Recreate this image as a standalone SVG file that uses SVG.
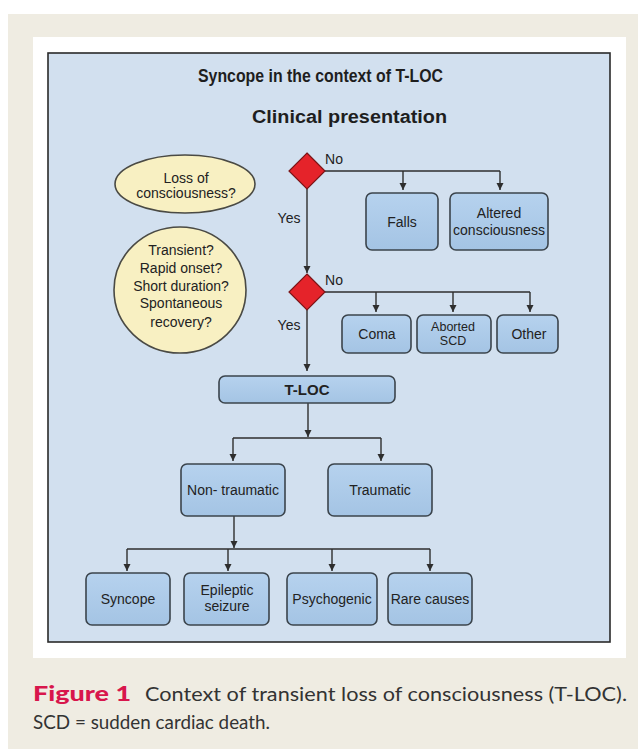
<svg xmlns="http://www.w3.org/2000/svg" width="638" height="749" viewBox="0 0 638 749">
<style>
.t{font-family:"Liberation Sans",Arial,sans-serif;font-size:14px;fill:#222;text-anchor:middle}
.box{fill:url(#bg);stroke:#3b444c;stroke-width:1.6}
.ell{fill:#F8F0C2;stroke:#4a4a44;stroke-width:1.6}
.dia{fill:#E5232A;stroke:#7a1518;stroke-width:1.2}
.ln{fill:none;stroke:#2e2e2e;stroke-width:1.4}
.arr{fill:none;stroke:#2e2e2e;stroke-width:1.4;marker-end:url(#ah)}
.cap{font-family:Lato,"Liberation Sans",sans-serif;font-size:18.5px;fill:#333}
.ttl{font-family:"Liberation Sans",Arial,sans-serif;font-size:18px;font-weight:bold;fill:#1e1e1e}
</style>
<defs>
<linearGradient id="bg" x1="0" y1="0" x2="0" y2="1">
<stop offset="0" stop-color="#B6D2EE"/>
<stop offset="1" stop-color="#A4C4E4"/>
</linearGradient>
<marker id="ah" markerUnits="userSpaceOnUse" markerWidth="8" markerHeight="8" refX="7" refY="4" orient="auto">
<path d="M0,0.5 L7,4 L0,7.5 z" fill="#2e2e2e"/>
</marker>
</defs>
<rect x="0" y="0" width="638" height="749" fill="#FFFFFF"/>
<rect x="8" y="14" width="630" height="735" fill="#EFECE2"/>
<rect x="33" y="37" width="593" height="621" fill="#FFFFFF"/>
<rect x="48" y="53" width="562" height="589" fill="#D2E0EF" stroke="#2a2a2a" stroke-width="1.6"/>
<g id="title">
<text class="ttl" x="198" y="82" textLength="245" lengthAdjust="spacingAndGlyphs">Syncope in the context of T-LOC</text>
<text class="ttl" x="252" y="123" textLength="195" lengthAdjust="spacingAndGlyphs">Clinical presentation</text>
</g>
<g id="connectors">
<path class="ln" d="M325,171 H500"/>
<path class="arr" d="M403,171 V190"/>
<path class="arr" d="M500,171 V190"/>
<path class="arr" d="M307,189 V273"/>
<path class="ln" d="M325,292 H530"/>
<path class="arr" d="M376,292 V312"/>
<path class="arr" d="M453,292 V312"/>
<path class="arr" d="M530,292 V312"/>
<path class="arr" d="M307,310 V371"/>
<path class="arr" d="M308,403 V437"/>
<path class="ln" d="M233,438 H381"/>
<path class="arr" d="M233,438 V461"/>
<path class="arr" d="M381,438 V461"/>
<path class="arr" d="M234,516 V548"/>
<path class="ln" d="M127,549 H430"/>
<path class="arr" d="M127,549 V571"/>
<path class="arr" d="M228,549 V571"/>
<path class="arr" d="M332,549 V571"/>
<path class="arr" d="M430,549 V571"/>
<text class="t" x="334" y="164">No</text>
<text class="t" x="289" y="223">Yes</text>
<text class="t" x="334" y="285">No</text>
<text class="t" x="289" y="330">Yes</text>
</g>
<g id="q1">
<ellipse class="ell" cx="185" cy="184" rx="70" ry="29"/>
<text class="t" x="186" y="183">Loss of</text>
<text class="t" x="186" y="198">consciousness?</text>
</g>
<g id="q2">
<ellipse class="ell" cx="180" cy="290" rx="66" ry="63"/>
<text class="t" x="181" y="255">Transient?</text>
<text class="t" x="181" y="273">Rapid onset?</text>
<text class="t" x="181" y="290.5">Short duration?</text>
<text class="t" x="181" y="308">Spontaneous</text>
<text class="t" x="181" y="326.5">recovery?</text>
</g>
<g id="d1"><polygon class="dia" points="307,153 325,171 307,189 289,171"/></g>
<g id="d2"><polygon class="dia" points="307,274 325,292 307,310 289,292"/></g>
<g id="falls"><rect class="box" x="366" y="193" width="72" height="57" rx="6"/><text class="t" x="402" y="227">Falls</text></g>
<g id="altered"><rect class="box" x="450" y="193" width="98" height="57" rx="6"/><text class="t" x="499" y="218">Altered</text><text class="t" x="499" y="235">consciousness</text></g>
<g id="coma"><rect class="box" x="342" y="315" width="69" height="38" rx="6"/><text class="t" x="377" y="339">Coma</text></g>
<g id="scd"><rect class="box" x="417" y="315" width="74" height="38" rx="6"/><text class="t" x="453" y="331" style="font-size:12.5px">Aborted</text><text class="t" x="453" y="345" style="font-size:12.5px">SCD</text></g>
<g id="other"><rect class="box" x="497" y="315" width="61" height="38" rx="6"/><text class="t" x="529" y="339">Other</text></g>
<g id="tloc"><rect class="box" x="219" y="376" width="176" height="27" rx="6"/><text class="t" x="307" y="395" style="font-weight:bold;font-size:15px">T-LOC</text></g>
<g id="nontraumatic"><rect class="box" x="181" y="464" width="104" height="52" rx="6"/><text class="t" x="233" y="495">Non- traumatic</text></g>
<g id="traumatic"><rect class="box" x="328" y="464" width="104" height="52" rx="6"/><text class="t" x="380" y="495">Traumatic</text></g>
<g id="syncope"><rect class="box" x="86" y="573" width="84" height="52" rx="6"/><text class="t" x="128" y="604">Syncope</text></g>
<g id="epileptic"><rect class="box" x="184" y="573" width="85" height="52" rx="6"/><text class="t" x="227" y="595">Epileptic</text><text class="t" x="227" y="611">seizure</text></g>
<g id="psychogenic"><rect class="box" x="287" y="573" width="90" height="52" rx="6"/><text class="t" x="332" y="604">Psychogenic</text></g>
<g id="rare"><rect class="box" x="388" y="573" width="84" height="52" rx="6"/><text class="t" x="430" y="604">Rare causes</text></g>
<g id="caption">
<text class="cap" x="33" y="701" style="font-weight:900;fill:#D8164C;font-size:21px" textLength="98" lengthAdjust="spacingAndGlyphs">Figure 1</text>
<text class="cap" x="145" y="701" textLength="482" lengthAdjust="spacingAndGlyphs">Context of transient loss of consciousness (T-LOC).</text>
<text class="cap" x="33" y="729" textLength="237" lengthAdjust="spacingAndGlyphs">SCD = sudden cardiac death.</text>
</g>
</svg>
